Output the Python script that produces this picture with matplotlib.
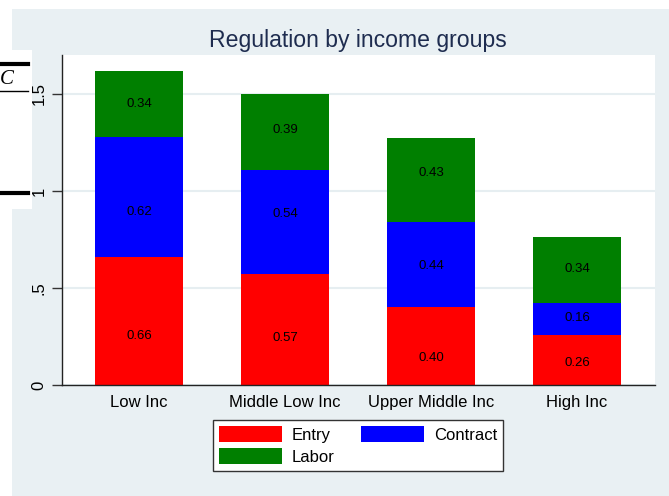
import matplotlib
matplotlib.use("Agg")
import matplotlib.pyplot as plt
from matplotlib.patches import Rectangle
from matplotlib.lines import Line2D
import numpy as np

plt.rcParams['font.family'] = ['Liberation Sans', 'DejaVu Sans']

categories = ["Low Inc", "Middle Low Inc", "Upper Middle Inc", "High Inc"]
entry = [0.66, 0.57, 0.40, 0.26]
contract = [0.62, 0.54, 0.44, 0.16]
labor = [0.34, 0.39, 0.43, 0.34]
series_names = ["Entry", "Contract", "Labor"]
series_colors = ["#FF0000", "#0000FF", "#007F00"]
# label positions (data units) as placed in the original
entry_label_y = [0.254, 0.242, 0.139, 0.113]
contract_label_y = [0.891, 0.881, 0.613, 0.347]
labor_label_y = [1.450, 1.314, 1.094, 0.598]
yticks = [0, 0.5, 1, 1.5]
ytick_labels = ["0", ".5", "1", "1.5"]
title = "Regulation by income groups"

W, H = 669, 496
fig = plt.figure(figsize=(W / 100, H / 100), dpi=100, facecolor="white")

def fx(px):
    return px / W

def fy(py):
    return 1 - py / H

bg = "#E9F0F3"
fig.patches.append(Rectangle((fx(12), 0), 1 - fx(12), fy(9), transform=fig.transFigure,
                             facecolor=bg, edgecolor="none", zorder=-5))

ax = fig.add_axes([fx(62), fy(385), fx(655) - fx(62), fy(55) - fy(385)])
ax.set_zorder(1)
ax.set_facecolor("white")
x = np.arange(len(categories))
width = 0.60
series = [entry, contract, labor]
label_ys = [entry_label_y, contract_label_y, labor_label_y]
bottom = np.zeros(len(categories))
bars = []
for vals, col, name, ly in zip(series, series_colors, series_names, label_ys):
    b = ax.bar(x, vals, width, bottom=bottom, color=col, label=name, zorder=2,
               edgecolor="none")
    bars.append(b)
    for xi, v, yy in zip(x, vals, ly):
        ax.text(xi, yy, f"{v:.2f}", ha="center", va="center", fontsize=9.5,
                color="black", zorder=3)
    bottom = bottom + np.array(vals)

ax.set_xlim(-0.527, 3.534)
ax.set_ylim(0, 1.70)
ax.set_xticks(x)
ax.set_xticklabels(categories, fontsize=12)
ax.set_yticks(yticks)
ax.set_yticklabels(ytick_labels, fontsize=12, rotation=90, va="center")
ax.tick_params(axis="x", length=0, pad=7)
ax.tick_params(axis="y", length=7, width=1, pad=4, color="#333333")
ax.yaxis.grid(True, color="#E6EEF1", linewidth=1.5, zorder=0)
ax.set_axisbelow(True)
for s in ["top", "right"]:
    ax.spines[s].set_visible(False)
for s in ["left", "bottom"]:
    ax.spines[s].set_linewidth(1.0)
    ax.spines[s].set_color("#222222")

fig.text(fx(358), fy(40), title, ha="center", va="center", fontsize=16.6,
         color="#1E2C4F")

handles = [bars[0], bars[2], bars[1]]
labels = [series_names[0], series_names[2], series_names[1]]
leg = fig.legend(handles, labels, loc="center", bbox_to_anchor=(fx(358), fy(445.5)),
                 bbox_transform=fig.transFigure, ncol=2, fontsize=12,
                 frameon=True, fancybox=False, edgecolor="#333333", framealpha=1,
                 handlelength=3.8, handleheight=1.05, handletextpad=0.6,
                 columnspacing=1.55, labelspacing=0.35, borderpad=0.35,
                 borderaxespad=0)
leg.get_frame().set_linewidth(1.0)
leg.set_zorder(2)

# overlay artifact at the left edge
fig.patches.append(Rectangle((0, fy(209)), fx(32), fy(50) - fy(209), transform=fig.transFigure,
                             facecolor="white", edgecolor="none", zorder=5))
fig.lines.append(Line2D([0, fx(28)], [fy(64), fy(64)], transform=fig.transFigure,
                        color="black", linewidth=3, zorder=6))
fig.lines.append(Line2D([0, fx(28)], [fy(91), fy(91)], transform=fig.transFigure,
                        color="black", linewidth=1, zorder=6))
fig.lines.append(Line2D([0, fx(28)], [fy(193), fy(193)], transform=fig.transFigure,
                        color="black", linewidth=3, zorder=6))
fig.text(fx(0), fy(79), "C", ha="left", va="center", fontsize=15, style="italic",
         family=["Liberation Serif", "DejaVu Serif"], color="black", zorder=7)

fig.savefig("out.png", dpi=100, facecolor="white")
